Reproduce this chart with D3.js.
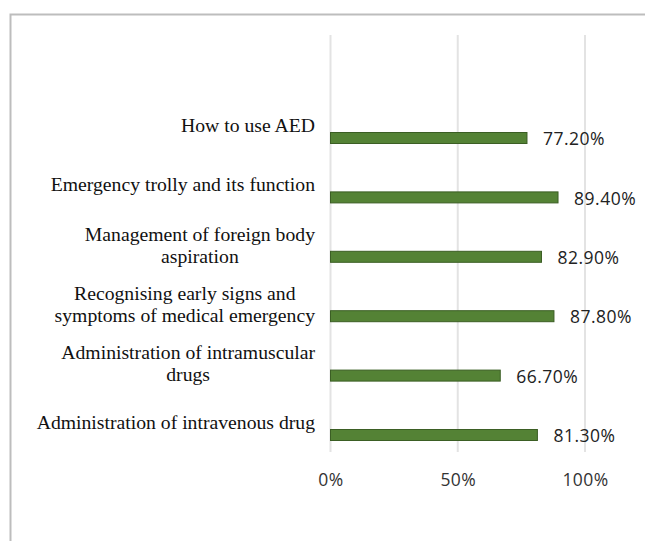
<!DOCTYPE html>
<html>
<head>
<meta charset="utf-8">
<script src="https://cdn.jsdelivr.net/npm/d3@7"></script>
<style>
  body { margin: 0; background: #fff; }
</style>
</head>
<body>
<div id="chart"></div>
<script>
// chart data
var categories = [
    ["How to use AED"],
    ["Emergency trolly and its function"],
    ["Management of foreign body", "aspiration"],
    ["Recognising early signs and", "symptoms of medical emergency"],
    ["Administration of intramuscular", "drugs"],
    ["Administration of intravenous drug"]
];
var values = [77.2, 89.4, 82.9, 87.8, 66.7, 81.3];
var valueLabels = ["77.20%", "89.40%", "82.90%", "87.80%", "66.70%", "81.30%"];
var xTicks = [0, 50, 100];

var width = 645;
var height = 541;

var svg = d3.select("#chart")
    .append("svg")
    .attr("width", width)
    .attr("height", height);

// outer frame (runs off the right and bottom edge)
svg.append("rect")
    .attr("x", 10.5)
    .attr("y", 14.5)
    .attr("width", 700)
    .attr("height", 600)
    .attr("fill", "#fff")
    .attr("stroke", "#bdbdbd")
    .attr("stroke-width", 2);

var x = d3.scaleLinear()
    .domain([0, 100])
    .range([330.5, 585]);

var keys = categories.map(function (d, i) { return i; });
var y = d3.scaleBand()
    .domain(keys)
    .range([108.3, 464.7]);

// gridlines
svg.append("g")
    .selectAll("line")
    .data(xTicks)
    .enter()
    .append("line")
    .attr("x1", function (d) { return x(d); })
    .attr("x2", function (d) { return x(d); })
    .attr("y1", 35)
    .attr("y2", 452)
    .attr("stroke", "#e3e3e3")
    .attr("stroke-width", 2);

// x axis labels
var xAxis = d3.axisBottom(x)
    .tickValues(xTicks)
    .tickSize(0)
    .tickFormat(function (d) { return d + "%"; });
var ax = svg.append("g")
    .attr("transform", "translate(0,471)")
    .call(xAxis);
ax.select(".domain").remove();
ax.selectAll("text")
    .attr("font-family", "'Open Sans', sans-serif")
    .attr("font-size", "17.5px")
    .attr("letter-spacing", "0.4px")
    .attr("fill", "#333");

// bars
svg.append("g")
    .selectAll("rect")
    .data(values)
    .enter()
    .append("rect")
    .attr("x", x(0))
    .attr("y", function (d, i) { return y(i) + y.bandwidth() / 2 - 5.5; })
    .attr("width", function (d) { return x(d) - x(0); })
    .attr("height", 11)
    .attr("fill", "#548235")
    .attr("stroke", "#3b5e24")
    .attr("stroke-width", 1);

// value labels
svg.append("g")
    .selectAll("text")
    .data(values)
    .enter()
    .append("text")
    .attr("x", function (d) { return x(d) + 16; })
    .attr("y", function (d, i) { return y(i) + y.bandwidth() / 2 + 1; })
    .attr("dy", "0.35em")
    .attr("font-family", "'Open Sans', sans-serif")
    .attr("font-size", "17.5px")
    .attr("letter-spacing", "0.5px")
    .attr("fill", "#222")
    .text(function (d, i) { return valueLabels[i]; });

// category labels, wrapped lines centered within their block
var labelRight = 315;
var catG = svg.append("g")
    .attr("font-family", "'Liberation Serif', 'Times New Roman', serif")
    .attr("font-size", "19.7px")
    .attr("fill", "#111");

categories.forEach(function (lines, i) {
    var cy = y(i) + y.bandwidth() / 2;
    var t = catG.append("text");
    var spans = lines.map(function (line, j) {
        return t.append("tspan")
            .attr("y", lines.length == 1 ? cy - 13 : cy - 23 + j * 22)
            .attr("dy", "0.35em")
            .text(line);
    });
    var maxW = 0;
    spans.forEach(function (s) {
        maxW = Math.max(maxW, s.node().getComputedTextLength());
    });
    t.attr("text-anchor", "middle");
    spans.forEach(function (s) { s.attr("x", labelRight - maxW / 2); });
});
</script>
</body>
</html>
